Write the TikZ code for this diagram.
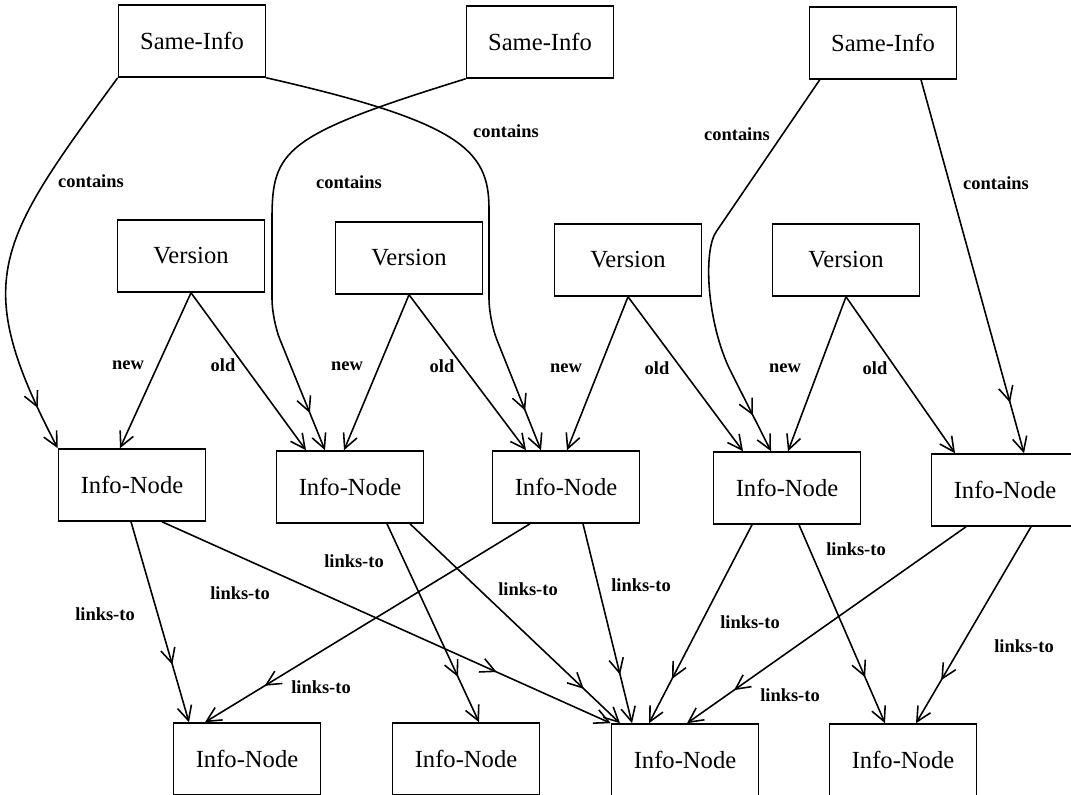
\documentclass[tikz,border=0pt]{standalone}
\usepackage{fontspec}
\setmainfont{Liberation Serif}
\usetikzlibrary{arrows.meta,calc,decorations.markings}

\begin{document}
\begin{tikzpicture}[
  x=0.02cm, y=-0.02cm,
  line width=0.9pt,
  box/.style={draw, line width=0.9pt, minimum width=2.94cm, minimum height=1.44cm,
              inner sep=0pt, font=\fontsize{14}{16}\selectfont},
  lbl/.style={font=\bfseries\fontsize{10.5}{12}\selectfont, inner sep=1pt},
  arrow/.style={-{Straight Barb[length=2.9mm, width=2.9mm]}},
  arrowtwo/.style={arrow, postaction={decorate, decoration={markings,
      mark=at position #1 with {\arrow{Straight Barb[length=2.9mm, width=2.9mm]}}}}},
  arrowtwo/.default=-1cm
]
\useasboundingbox (0,0) rectangle (1071,794);

% top row
\node[box] (same1) at (192,41) {Same-Info};
\node[box] (same2) at (540,42) {Same-Info};
\node[box] (same3) at (883,43) {Same-Info};

% versions
\node[box] (ver1) at (191,256) {Version};
\node[box] (ver2) at (409,258) {Version};
\node[box] (ver3) at (628,260) {Version};
\node[box] (ver4) at (846,260) {Version};

% info nodes
\node[box] (info1) at (132,485) {Info-Node};
\node[box] (info2) at (350,487) {Info-Node};
\node[box] (info3) at (566,487) {Info-Node};
\node[box] (info4) at (787,488) {Info-Node};
\node[box] (info5) at (1005,490) {Info-Node};

\node[box] (low1) at (247,759) {Info-Node};
\node[box] (low2) at (466,759) {Info-Node};
\node[box] (low3) at (685,760) {Info-Node};
\node[box] (low4) at (903,760) {Info-Node};

% contains
\draw[arrowtwo=-0.9cm] (same1.south west) .. controls (-4,244) and (-30,280) .. (info1.north west);
\draw[arrowtwo=-0.85cm, rounded corners=12] (same1.south east) .. controls (461,122) and (489,150) .. (489,230)
  -- (489,320) -- ($(info3.north)+(-25,0)$);
\draw[arrowtwo=-0.8cm, rounded corners=12] (same2.south west) .. controls (284,135) and (272,150) .. (272,240)
  -- (272,320) -- ($(info2.north)+(-25,0)$);
\draw[arrowtwo=-0.8cm] ($(same3.south west)+(11,0)$) -- (716,232)
  .. controls (703,252) and (707,322) .. (730,370) -- ($(info4.north)+(-16,0)$);
\draw[arrowtwo=-1.05cm] ($(same3.south)+(38,0)$) -- ($(info5.north)+(19,0)$);

\node[lbl] (contains1) at (91,181) {contains};
\node[lbl] (contains2) at (349,182) {contains};
\node[lbl] (contains3) at (506,131) {contains};
\node[lbl] (contains4) at (737,134) {contains};
\node[lbl] (contains5) at (996,183) {contains};

% new / old
\draw[arrow] (ver1.south) -- ($(info1.north)+(-12,0)$);
\draw[arrow] (ver1.south) -- ($(info2.north)+(-44,0)$);
\draw[arrow] (ver2.south) -- ($(info2.north)+(-6,0)$);
\draw[arrow] (ver2.south) -- ($(info3.north)+(-40,0)$);
\draw[arrow] (ver3.south) -- ($(info3.north)+(1,0)$);
\draw[arrow] (ver3.south) -- ($(info4.north)+(-44,0)$);
\draw[arrow] (ver4.south) -- ($(info4.north)+(1,0)$);
\draw[arrow] (ver4.south) -- ($(info5.north)+(-50,0)$);

\node[lbl] (new1) at (128,365) {new};
\node[lbl] (old1) at (223,365) {old};
\node[lbl] (new2) at (347,366) {new};
\node[lbl] (old2) at (442,366) {old};
\node[lbl] (new3) at (566,368) {new};
\node[lbl] (old3) at (657,368) {old};
\node[lbl] (new4) at (785,368) {new};
\node[lbl] (old4) at (875,368) {old};

% links-to
\draw[arrowtwo=-1.2cm] ($(info1.south)+(-1,0)$) -- ($(low1.north)+(-58,0)$);
\draw[arrowtwo=-2.5cm] ($(info1.south)+(30,0)$) -- (low3.north west);
\draw[arrowtwo] ($(info2.south)+(37,0)$) -- ($(low2.north)+(13,0)$);
\draw[arrowtwo] ($(info2.south)+(60,0)$) -- ($(low3.north)+(-65,0)$);
\draw[arrowtwo=-1.4cm] ($(info3.south)+(-36,0)$) -- ($(low1.north)+(-42,0)$);
\draw[arrowtwo] ($(info3.south)+(17,0)$) -- ($(low3.north)+(-53,0)$);
\draw[arrowtwo] ($(info4.south)+(-35,0)$) -- ($(low3.north)+(-36,0)$);
\draw[arrowtwo] ($(info4.south)+(12,0)$) -- ($(low4.north)+(-18,0)$);
\draw[arrowtwo=-1.15cm] ($(info5.south)+(-39,0)$) -- ($(low3.north)+(2,0)$);
\draw[arrowtwo] ($(info5.south)+(26,0)$) -- ($(low4.north)+(13,0)$);

\node[lbl] (links1) at (105,614) {links-to};
\node[lbl] (links2) at (240,593) {links-to};
\node[lbl] (links3) at (354,561) {links-to};
\node[lbl] (links4) at (321,687) {links-to};
\node[lbl] (links5) at (528,589) {links-to};
\node[lbl] (links6) at (641,585) {links-to};
\node[lbl] (links7) at (750,622) {links-to};
\node[lbl] (links8) at (856,549) {links-to};
\node[lbl] (links9) at (790,695) {links-to};
\node[lbl] (links10) at (1024,646) {links-to};
\end{tikzpicture}
\end{document}
